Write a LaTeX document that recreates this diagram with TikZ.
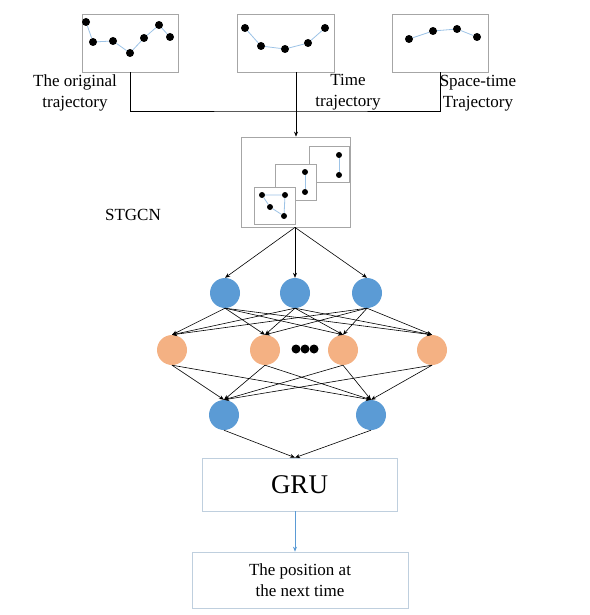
\documentclass[tikz,border=0pt]{standalone}
\usepackage{fontspec}
\setmainfont{Liberation Serif}
\usetikzlibrary{arrows.meta}
\definecolor{nblue}{HTML}{5B9BD5}
\definecolor{norange}{HTML}{F4B183}
\definecolor{boxgray}{HTML}{A6A6A6}
\definecolor{lineblue}{HTML}{9DC3E6}
\tikzset{
  plotbox/.style={draw=boxgray, line width=0.8pt},
  dotn/.style={circle, fill=black, inner sep=0pt, minimum size=8pt},
  sdot/.style={circle, fill=black, inner sep=0pt, minimum size=6pt},
  pl/.style={lineblue, line width=0.8pt},
  bnode/.style={circle, fill=nblue, inner sep=0pt, minimum size=30pt},
  onode/.style={circle, fill=norange, inner sep=0pt, minimum size=30pt},
  conn/.style={-{Stealth[length=5pt,width=4pt]}, line width=0.6pt},
  lbl/.style={font=\fontsize{17pt}{20.5pt}\selectfont, align=center},
  lightbox/.style={draw=lineblue!70!gray!60, line width=0.7pt}
}
\begin{document}
\begin{tikzpicture}[x=1pt,y=-1pt]
\useasboundingbox (0,0) rectangle (589,615);
% top boxes
\node[plotbox, minimum width=96pt, minimum height=58pt, inner sep=0pt] (b1) at (130,43) {};
\node[plotbox, minimum width=97pt, minimum height=58pt, inner sep=0pt] (b2) at (285.5,43) {};
\node[plotbox, minimum width=96pt, minimum height=58pt, inner sep=0pt] (b3) at (440,43) {};
% box1 points
\foreach \n/\x/\y in {a1/86/22,a2/93/42,a3/113/41,a4/130/53,a5/144/38,a6/159/25,a7/170/37}
  \node[dotn] (\n) at (\x,\y) {};
\draw[pl] (a1)--(a2)--(a3)--(a4)--(a5)--(a6)--(a7);
\foreach \n/\x/\y in {c1/245/28,c2/261/46,c3/285/49,c4/308/43,c5/325/28}
  \node[dotn] (\n) at (\x,\y) {};
\draw[pl] (c1)--(c2)--(c3)--(c4)--(c5);
\foreach \n/\x/\y in {d1/409/39,d2/433/31,d3/457/29,d4/477/37}
  \node[dotn] (\n) at (\x,\y) {};
\draw[pl] (d1)--(d2)--(d3)--(d4);
% labels
\node[lbl] (l1) at (75,93) {The original\\trajectory};
\node[lbl] (l2) at (348,92) {Time\\trajectory};
\node[lbl] (l3) at (478,93) {Space-time\\Trajectory};
% STGCN box
\node[plotbox, minimum width=109pt, minimum height=90pt, inner sep=0pt] (st) at (295.5,182) {};
\node[plotbox, minimum width=40pt, minimum height=36pt, inner sep=0pt, fill=white] (ic) at (329,164) {};
\node[plotbox, minimum width=41pt, minimum height=36pt, inner sep=0pt, fill=white] (ib) at (295.5,182) {};
\node[plotbox, minimum width=41pt, minimum height=37pt, inner sep=0pt, fill=white] (ia) at (274.5,205.5) {};
\node[sdot] (p1) at (262,195) {};
\node[sdot] (p2) at (285,195) {};
\node[sdot] (p3) at (270,207) {};
\node[sdot] (p4) at (284,216) {};
\draw[pl] (p1)--(p2)--(p4)--(p3)--(p1);
\node[sdot] (q1) at (305,172) {};
\node[sdot] (q2) at (305,192) {};
\draw[pl] (q1)--(q2);
\node[sdot] (r1) at (339,155) {};
\node[sdot] (r2) at (339,175) {};
\draw[pl] (r1)--(r2);
\node[lbl] (stl) at (133,215) {STGCN};
% connectors top
\coordinate (j) at (296,111);
\draw[line width=0.6pt] (b1.south) |- (j) -| (b3.south);
\draw[conn] (b2.south -| j) -- (st.north -| j);
% network
\node[bnode] (t1) at (225,293) {};
\node[bnode] (t2) at (295,293) {};
\node[bnode] (t3) at (367,293) {};
\node[onode] (o1) at (172,350) {};
\node[onode] (o2) at (265,350) {};
\node[onode] (o3) at (343,350) {};
\node[onode] (o4) at (432,350) {};
\node[dotn, minimum size=9pt] (e1) at (296,349) {};
\node[dotn, minimum size=9pt] (e2) at (305,349) {};
\node[dotn, minimum size=9pt] (e3) at (314,349) {};
\node[bnode] (u1) at (224,415) {};
\node[bnode] (u2) at (371,415) {};
\foreach \t in {t1,t2,t3} \draw[conn] (st.south -| t2) -- (\t.north);
\foreach \t in {t1,t2,t3} \foreach \o in {o1,o2,o3,o4} \draw[conn] (\t.south) -- (\o.north);
\foreach \o in {o1,o2,o3,o4} \foreach \u in {u1,u2} \draw[conn] (\o.south) -- (\u.north);
% GRU
\node[lightbox, minimum width=195pt, minimum height=53pt, inner sep=0pt, font=\fontsize{27pt}{30pt}\selectfont] (gru) at (299.5,484.5) {GRU};
\foreach \u in {u1,u2} \draw[conn] (\u.south) -- (gru.north -| t2);
\node[lightbox, minimum width=216pt, minimum height=56pt, inner sep=0pt, lbl] (pos) at (300,580) {The position at\\the next time};
\draw[nblue, line width=0.6pt, -{Stealth[length=5pt,width=4pt]}] (gru.south -| t2) -- (pos.north -| t2);
\end{tikzpicture}
\end{document}
